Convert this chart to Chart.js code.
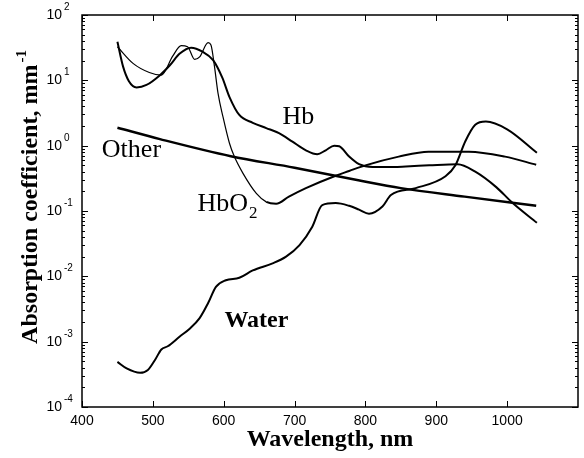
<!DOCTYPE html>
<html>
<head>
<meta charset="utf-8">
<script src="https://cdn.jsdelivr.net/npm/chart.js@4.4.1/dist/chart.umd.min.js"></script>
<style>
  html, body { margin: 0; padding: 0; background: #fff; }
  canvas { display: block; }
</style>
</head>
<body>
<canvas id="chart" width="584" height="458"></canvas>
<script>
// wavelength (nm) and absorption coefficient (mm^-1)
const hbNm = [450, 458, 466, 477, 491, 510, 524, 538, 554, 570, 585, 598, 608, 622, 641, 660, 678, 697, 716, 732,
              744, 756, 763, 777, 791, 810, 830, 857, 890, 930, 955, 985, 1007, 1042];
const hbVal = [38.9, 16.2, 9.8, 7.8, 8.5, 12.0, 17.0, 25.7, 31.6, 27.5, 20.4, 11.0, 5.6, 2.95, 2.24, 1.86, 1.55, 1.15, 0.85, 0.74,
               0.85, 1.0, 0.98, 0.68, 0.52, 0.47, 0.47, 0.48, 0.50, 0.52, 0.40, 0.23, 0.135, 0.066];

const hbo2Nm = [450, 472, 495, 512, 528, 540, 549, 559, 566, 578, 582, 587, 592, 599, 608, 615, 627, 646, 660, 674,
                692, 716, 758, 777, 800, 847, 889, 946, 997, 1041];
const hbo2Val = [32.7, 18.2, 13.2, 12.0, 23.4, 33.9, 32.7, 20.9, 22.9, 37.7, 34.7, 16.2, 6.3, 2.75, 1.10, 0.68, 0.38, 0.186, 0.138, 0.129,
                 0.166, 0.224, 0.347, 0.41, 0.50, 0.68, 0.81, 0.81, 0.68, 0.51];

const waterNm = [450, 463, 482, 493, 503, 512, 521, 538, 552, 566, 578, 589, 603, 622, 641, 669, 688, 707, 725, 739,
                 758, 777, 791, 805, 824, 836, 871, 913, 927, 941, 955, 970, 1000, 1042];
const waterVal = [4.9e-4, 3.9e-4, 3.35e-4, 3.7e-4, 5.25e-4, 7.6e-4, 8.5e-4, 1.2e-3, 1.58e-3, 2.29e-3, 3.9e-3, 6.9e-3, 8.7e-3, 9.5e-3, 1.23e-2, 1.58e-2, 2.0e-2, 3.0e-2, 5.75e-2, 0.123,
                  0.132, 0.120, 0.105, 0.091, 0.117, 0.176, 0.224, 0.34, 0.50, 1.17, 2.09, 2.34, 1.78, 0.78];

const otherNm = [450, 510, 610, 700, 790, 850, 940, 1041];
const otherVal = [1.88, 1.26, 0.69, 0.46, 0.295, 0.224, 0.166, 0.12];

const xTicks = [400, 500, 600, 700, 800, 900, 1000];
const yExponents = [-4, -3, -2, -1, 0, 1, 2];

// text placed on the plot, anchored in data units
const curveLabels = [
  { text: 'Other', nm: 428, val: 0.67, font: '26px "Liberation Serif"' },
  { text: 'Hb', nm: 683, val: 2.14, font: '26px "Liberation Serif"' },
  { text: 'HbO', sub: '2', nm: 563, val: 0.1, font: '26px "Liberation Serif"' },
  { text: 'Water', nm: 601, val: 1.67e-3, font: 'bold 24px "Liberation Serif"' }
];

function toPoints(nm, val) {
  return nm.map((x, i) => ({ x: x, y: val[i] }));
}

const frame = {
  id: 'frame',
  afterDraw(chart) {
    const ctx = chart.ctx;
    const a = chart.chartArea;
    const x = chart.scales.x, y = chart.scales.y;
    ctx.save();
    ctx.strokeStyle = '#000';
    ctx.fillStyle = '#000';
    ctx.lineWidth = 1.5;
    ctx.strokeRect(a.left, a.top, a.right - a.left, a.bottom - a.top);

    // inward tick marks on all four sides
    ctx.lineWidth = 1;
    ctx.beginPath();
    xTicks.forEach(v => {
      const px = Math.round(x.getPixelForValue(v)) + 0.5;
      ctx.moveTo(px, a.bottom); ctx.lineTo(px, a.bottom - 6);
      ctx.moveTo(px, a.top); ctx.lineTo(px, a.top + 6);
    });
    yExponents.forEach(e => {
      for (let m = 1; m <= 9; m++) {
        if (e === 2 && m > 1) break;
        const py = Math.round(y.getPixelForValue(m * Math.pow(10, e))) + 0.5;
        const len = m === 1 ? 6 : 3;
        ctx.moveTo(a.left, py); ctx.lineTo(a.left + len, py);
        ctx.moveTo(a.right, py); ctx.lineTo(a.right - len, py);
      }
    });
    ctx.stroke();

    // y tick labels 10^n
    yExponents.forEach(e => {
      const py = y.getPixelForValue(Math.pow(10, e));
      ctx.font = '14px "Liberation Sans"';
      ctx.textAlign = 'right';
      ctx.textBaseline = 'middle';
      ctx.fillText('10', 62, py);
      ctx.font = '10px "Liberation Sans"';
      ctx.textAlign = 'left';
      ctx.textBaseline = 'alphabetic';
      ctx.fillText(e < 0 ? '-' + (-e) : String(e), 64, py - 5);
    });

    // y axis title with superscript
    ctx.save();
    ctx.font = 'bold 24px "Liberation Serif"';
    const main = 'Absorption coefficient, mm';
    const w = ctx.measureText(main).width;
    ctx.font = 'bold 15px "Liberation Serif"';
    const ws = ctx.measureText('-1').width;
    const total = w + 2 + ws;
    ctx.translate(31, 197 + total / 2);
    ctx.rotate(-Math.PI / 2);
    ctx.textAlign = 'left';
    ctx.textBaseline = 'middle';
    ctx.font = 'bold 24px "Liberation Serif"';
    ctx.fillText(main, 0, 0);
    ctx.font = 'bold 15px "Liberation Serif"';
    ctx.fillText('-1', w + 2, -9);
    ctx.restore();

    // curve names
    ctx.textAlign = 'left';
    ctx.textBaseline = 'alphabetic';
    curveLabels.forEach(l => {
      const px = x.getPixelForValue(l.nm);
      const py = y.getPixelForValue(l.val);
      ctx.font = l.font;
      ctx.fillText(l.text, px, py);
      if (l.sub) {
        const tw = ctx.measureText(l.text).width;
        ctx.font = '17px "Liberation Serif"';
        ctx.fillText(l.sub, px + tw + 1, py + 7);
      }
    });
    ctx.restore();
  }
};

function lineSet(label, nm, val, width) {
  return {
    label: label,
    data: toPoints(nm, val),
    borderColor: '#000',
    borderWidth: width,
    pointRadius: 0,
    fill: false,
    cubicInterpolationMode: 'monotone'
  };
}

const hbo2Set = lineSet('HbO2', hbo2Nm, hbo2Val, 2);
hbo2Set.segment = { borderWidth: c => (c.p0.parsed.x < 660 ? 1.2 : 2) };

new Chart(document.getElementById('chart'), {
  type: 'line',
  data: {
    datasets: [
      lineSet('Hb', hbNm, hbVal, 2),
      hbo2Set,
      lineSet('Water', waterNm, waterVal, 2),
      lineSet('Other', otherNm, otherVal, 2.5)
    ]
  },
  options: {
    responsive: false,
    animation: false,
    devicePixelRatio: 1,
    layout: { padding: { top: 15, right: 5, left: 0, bottom: 0 } },
    plugins: { legend: { display: false }, tooltip: { enabled: false } },
    scales: {
      x: {
        type: 'linear',
        min: 400,
        max: 1100,
        grid: { display: false, drawTicks: false },
        border: { display: false },
        ticks: {
          stepSize: 100,
          autoSkip: false,
          maxRotation: 0,
          padding: 6,
          color: '#000',
          font: { family: 'Liberation Sans', size: 14 },
          callback: v => (v > 1000 ? '' : v)
        },
        title: {
          display: true,
          text: 'Wavelength, nm',
          color: '#000',
          font: { family: 'Liberation Serif', size: 24, weight: 'bold' },
          padding: { top: 0, bottom: 4 }
        },
        afterFit: s => { s.height = 51; }
      },
      y: {
        type: 'logarithmic',
        min: 1e-4,
        max: 100,
        grid: { display: false, drawTicks: false },
        border: { display: false },
        ticks: { display: false },
        afterFit: s => { s.width = 82; }
      }
    }
  },
  plugins: [frame]
});
</script>
</body>
</html>
